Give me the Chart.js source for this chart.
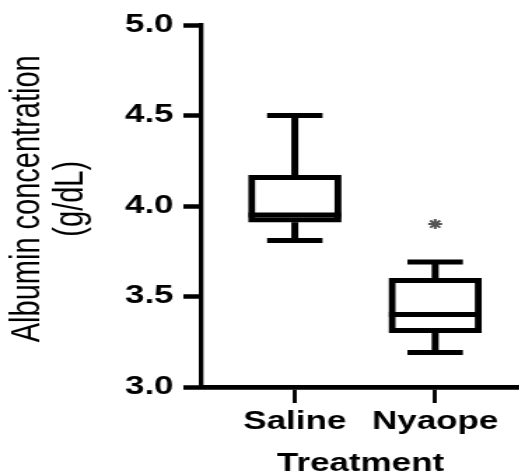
<!DOCTYPE html>
<html><head><meta charset="utf-8">
<script src="https://cdn.jsdelivr.net/npm/chart.js@4"></script>
<style>
html,body{margin:0;padding:0;background:#fff;overflow:hidden;}
#wrap{width:519px;height:475px;overflow:hidden;background:#fff;}
#c{display:block;transform:scaleX(1.4);transform-origin:0 0;}
</style></head><body>
<div id="wrap"><canvas id="c" width="378" height="475"></canvas></div>
<script>
// ---- data ----
const categories   = ['Saline', 'Nyaope'];
const catPositions = [1, 2];
const whiskerMin   = [3.81, 3.19];
const q1           = [3.91, 3.30];
const median       = [3.95, 3.40];
const q3           = [4.17, 3.60];
const whiskerMax   = [4.50, 3.69];
const significance = [null, 3.90];   // "*" marker above Nyaope
const yTicks       = [3.0, 3.5, 4.0, 4.5, 5.0];

const FONT = 'Liberation Sans, Arial, Helvetica, sans-serif';

const boxWhiskers = {
  id: 'boxWhiskers',
  afterDatasetsDraw(chart) {
    const meta = chart.getDatasetMeta(0);
    const ys = chart.scales.y;
    const ctx = chart.ctx;
    ctx.save();
    ctx.strokeStyle = '#000';
    ctx.lineCap = 'butt';
    ctx.lineWidth = 5;
    meta.data.forEach((bar, i) => {
      const {x, width} = bar.getProps(['x', 'width'], true);
      const capHalf = width * 0.3;
      const pMax = ys.getPixelForValue(whiskerMax[i]);
      const pMin = ys.getPixelForValue(whiskerMin[i]);
      const pQ3 = ys.getPixelForValue(q3[i]);
      const pQ1 = ys.getPixelForValue(q1[i]);
      const pMed = ys.getPixelForValue(median[i]);
      ctx.beginPath();
      ctx.moveTo(x, pQ3); ctx.lineTo(x, pMax);
      ctx.moveTo(x, pQ1); ctx.lineTo(x, pMin);
      ctx.moveTo(x - capHalf, pMax); ctx.lineTo(x + capHalf, pMax);
      ctx.moveTo(x - capHalf, pMin); ctx.lineTo(x + capHalf, pMin);
      ctx.moveTo(x - width / 2, pMed); ctx.lineTo(x + width / 2, pMed);
      ctx.stroke();
    });
    ctx.restore();
  }
};

new Chart(document.getElementById('c'), {
  type: 'bar',
  data: {
    datasets: [
      {
        type: 'bar',
        data: categories.map((c, i) => ({x: catPositions[i], y: [q1[i], q3[i]]})),
        backgroundColor: '#fff',
        borderColor: '#000',
        borderWidth: 5,
        borderSkipped: false,
        barThickness: 66
      },
      {
        type: 'scatter',
        data: significance.map((v, i) => v == null ? null : {x: catPositions[i], y: v}).filter(Boolean),
        pointStyle: 'star',
        radius: 5,
        borderWidth: 2,
        borderColor: '#555',
        backgroundColor: '#555'
      }
    ]
  },
  options: {
    responsive: false,
    animation: false,
    devicePixelRatio: 1,
    events: [],
    layout: {padding: {top: 25, right: 0, bottom: 0, left: 0}},
    plugins: {legend: {display: false}, tooltip: {enabled: false}},
    scales: {
      x: {
        type: 'linear',
        offset: false,
        min: 0.336, max: 2.6,
        afterBuildTicks: s => { s.ticks = catPositions.map(v => ({value: v})); },
        afterFit: s => { s.height = 88; s.paddingLeft = 0; s.paddingRight = 0; },
        ticks: {
          callback: v => categories[catPositions.indexOf(v)],
          font: {family: FONT, size: 25, weight: 'bold'},
          color: '#000', padding: 4, maxRotation: 0, autoSkip: false
        },
        grid: {display: true, offset: false, drawOnChartArea: false, drawTicks: true, tickLength: 16, tickWidth: 2.9, tickColor: '#000'},
        border: {display: true, color: '#000', width: 4.7},
        title: {
          display: true, text: 'Treatment', color: '#000',
          font: {family: FONT, size: 25, weight: 'bold', lineHeight: 0.6},
          padding: {top: 0, bottom: 3}
        }
      },
      y: {
        type: 'linear',
        min: 3, max: 5,
        afterBuildTicks: s => { s.ticks = yTicks.map(v => ({value: v})); },
        afterFit: s => { s.width = 144; },
        ticks: {
          callback: v => Number(v).toFixed(1),
          font: {family: FONT, size: 25, weight: 'bold'},
          color: '#000', padding: 7
        },
        grid: {display: true, drawOnChartArea: false, drawTicks: true, tickLength: 13, tickWidth: 4.5, tickColor: '#000'},
        border: {display: true, color: '#000', width: 3.3},
        title: {
          display: true, text: ['\u2002Albumin concentration', '\u2002(g/dL)'], color: '#000',
          font: {family: FONT, size: 29, lineHeight: 1.07},
          padding: {top: 4, bottom: 0}
        }
      }
    }
  },
  plugins: [boxWhiskers]
});
</script>
</body></html>
